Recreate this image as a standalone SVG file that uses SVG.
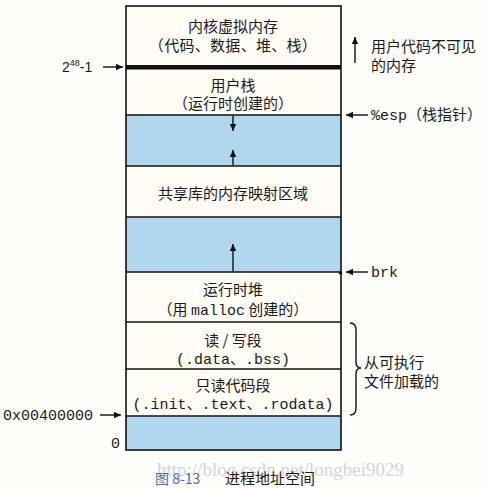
<svg xmlns="http://www.w3.org/2000/svg" width="486" height="491" viewBox="0 0 486 491">
<defs>
<style>
.cjk{font-family:"Noto Sans CJK SC","Noto Sans",sans-serif;font-size:15px;fill:#1a1a1a}
.mono{font-family:"Liberation Mono","DejaVu Sans Mono",monospace;font-size:15px;fill:#1a1a1a}
.sans{font-family:"Liberation Sans",sans-serif;fill:#1a1a1a}
.line{stroke:#111;stroke-width:1.6;fill:none}
.white{fill:#fffdf6}
.blue{fill:#b0d7ed}
.conn{stroke:#111;stroke-width:1.4;fill:none}
</style>
<marker id="ah" markerWidth="8" markerHeight="8" refX="7" refY="4" orient="auto" markerUnits="userSpaceOnUse">
<path d="M0,0.8 L7,4 L0,7.2 Z" fill="#111"/>
</marker>
</defs>
<rect width="486" height="491" fill="#fdfdfa"/>

<g id="kernel">
<rect class="white" x="126" y="6" width="215" height="61"/>
<text class="cjk" x="233" y="32" text-anchor="middle">内核虚拟内存</text>
<text class="cjk" x="233" y="51" text-anchor="middle" letter-spacing="0.3">（代码、数据、堆、栈）</text>
</g>
<g id="user-stack">
<rect class="white" x="126" y="67" width="215" height="48"/>
<text class="cjk" x="233" y="91" text-anchor="middle">用户栈</text>
<text class="cjk" x="233" y="109" text-anchor="middle">（运行时创建的）</text>
</g>
<g id="gap1">
<rect class="blue" x="126" y="115" width="215" height="51"/>
</g>
<g id="shared-lib">
<rect class="white" x="126" y="166" width="215" height="51"/>
<text class="cjk" x="233" y="199" text-anchor="middle">共享库的内存映射区域</text>
</g>
<g id="gap2">
<rect class="blue" x="126" y="217" width="215" height="55"/>
</g>
<g id="heap">
<rect class="white" x="126" y="272" width="215" height="50"/>
<text class="cjk" x="233" y="295" text-anchor="middle">运行时堆</text>
<text x="233" y="315" text-anchor="middle"><tspan class="cjk">（用 </tspan><tspan class="mono">malloc</tspan><tspan class="cjk"> 创建的）</tspan></text>
</g>
<g id="rw-seg">
<rect class="white" x="126" y="322" width="215" height="47"/>
<text class="cjk" x="233" y="346" text-anchor="middle">读 / 写段</text>
<text x="233" y="364" text-anchor="middle"><tspan class="mono">(.data</tspan><tspan class="cjk">、</tspan><tspan class="mono">.bss)</tspan></text>
</g>
<g id="ro-seg">
<rect class="white" x="126" y="369" width="215" height="47"/>
<text class="cjk" x="233" y="391" text-anchor="middle">只读代码段</text>
<text x="233" y="409" text-anchor="middle"><tspan class="mono">(.init</tspan><tspan class="cjk">、</tspan><tspan class="mono">.text</tspan><tspan class="cjk">、</tspan><tspan class="mono">.rodata)</tspan></text>
</g>
<g id="gap3">
<rect class="blue" x="126" y="416" width="215" height="34"/>
</g>

<g id="outline">
<rect x="126" y="6" width="215" height="444" class="line"/>
<rect x="126" y="65" width="215" height="4.5" fill="#111"/>
<line class="line" x1="126" y1="115" x2="341" y2="115"/>
<line class="line" x1="126" y1="166" x2="341" y2="166"/>
<line class="line" x1="126" y1="217" x2="341" y2="217"/>
<line class="line" x1="126" y1="272" x2="341" y2="272"/>
<line class="line" x1="126" y1="322" x2="341" y2="322"/>
<line class="line" x1="126" y1="369" x2="341" y2="369"/>
<line class="line" x1="126" y1="416" x2="341" y2="416"/>
</g>

<g id="connectors">
<line class="conn" x1="233" y1="116" x2="233" y2="131" marker-end="url(#ah)"/>
<line class="conn" x1="233" y1="165" x2="233" y2="150" marker-end="url(#ah)"/>
<line class="conn" x1="233" y1="271" x2="233" y2="244" marker-end="url(#ah)"/>
<line class="conn" x1="103" y1="67" x2="123" y2="67" marker-end="url(#ah)"/>
<line class="conn" x1="355" y1="63" x2="355" y2="37" marker-end="url(#ah)"/>
<line class="conn" x1="368" y1="115" x2="346" y2="115" marker-end="url(#ah)"/>
<line class="conn" x1="368" y1="272" x2="346" y2="272" marker-end="url(#ah)"/>
<line class="conn" x1="100" y1="415" x2="121" y2="415" marker-end="url(#ah)"/>
<circle cx="340.5" cy="273" r="1.8" fill="#111"/>
<path class="conn" d="M350,323 Q356,323 356,330 L356,362 Q356,368 361,368 Q356,368 356,374 L356,408 Q356,415 350,415"/>
</g>

<g id="labels">
<text class="sans" x="62" y="72" font-size="14">2<tspan font-size="9" dy="-6">48</tspan><tspan dy="6">-1</tspan></text>
<text class="cjk" x="371" y="52">用户代码不可见</text>
<text class="cjk" x="371" y="71">的内存</text>
<text x="371" y="120"><tspan class="mono">%esp</tspan><tspan class="cjk">（栈指针）</tspan></text>
<text class="mono" x="371" y="277">brk</text>
<text class="cjk" x="364" y="368">从可执行</text>
<text class="cjk" x="364" y="387">文件加载的</text>
<text class="mono" x="3" y="420">0x00400000</text>
<text class="mono" x="111" y="448">0</text>
</g>

<g id="caption">
<text x="157" y="476" font-family="Liberation Serif,serif" font-size="19" fill="#cccccc" opacity="0.8">http://blog.csdn.net/longbei9029</text>
<text x="155" y="484" font-family="Noto Sans CJK SC,serif" font-size="14" fill="#4a6db0">图 8-13</text>
<text x="225" y="484" class="cjk">进程地址空间</text>
</g>
</svg>
